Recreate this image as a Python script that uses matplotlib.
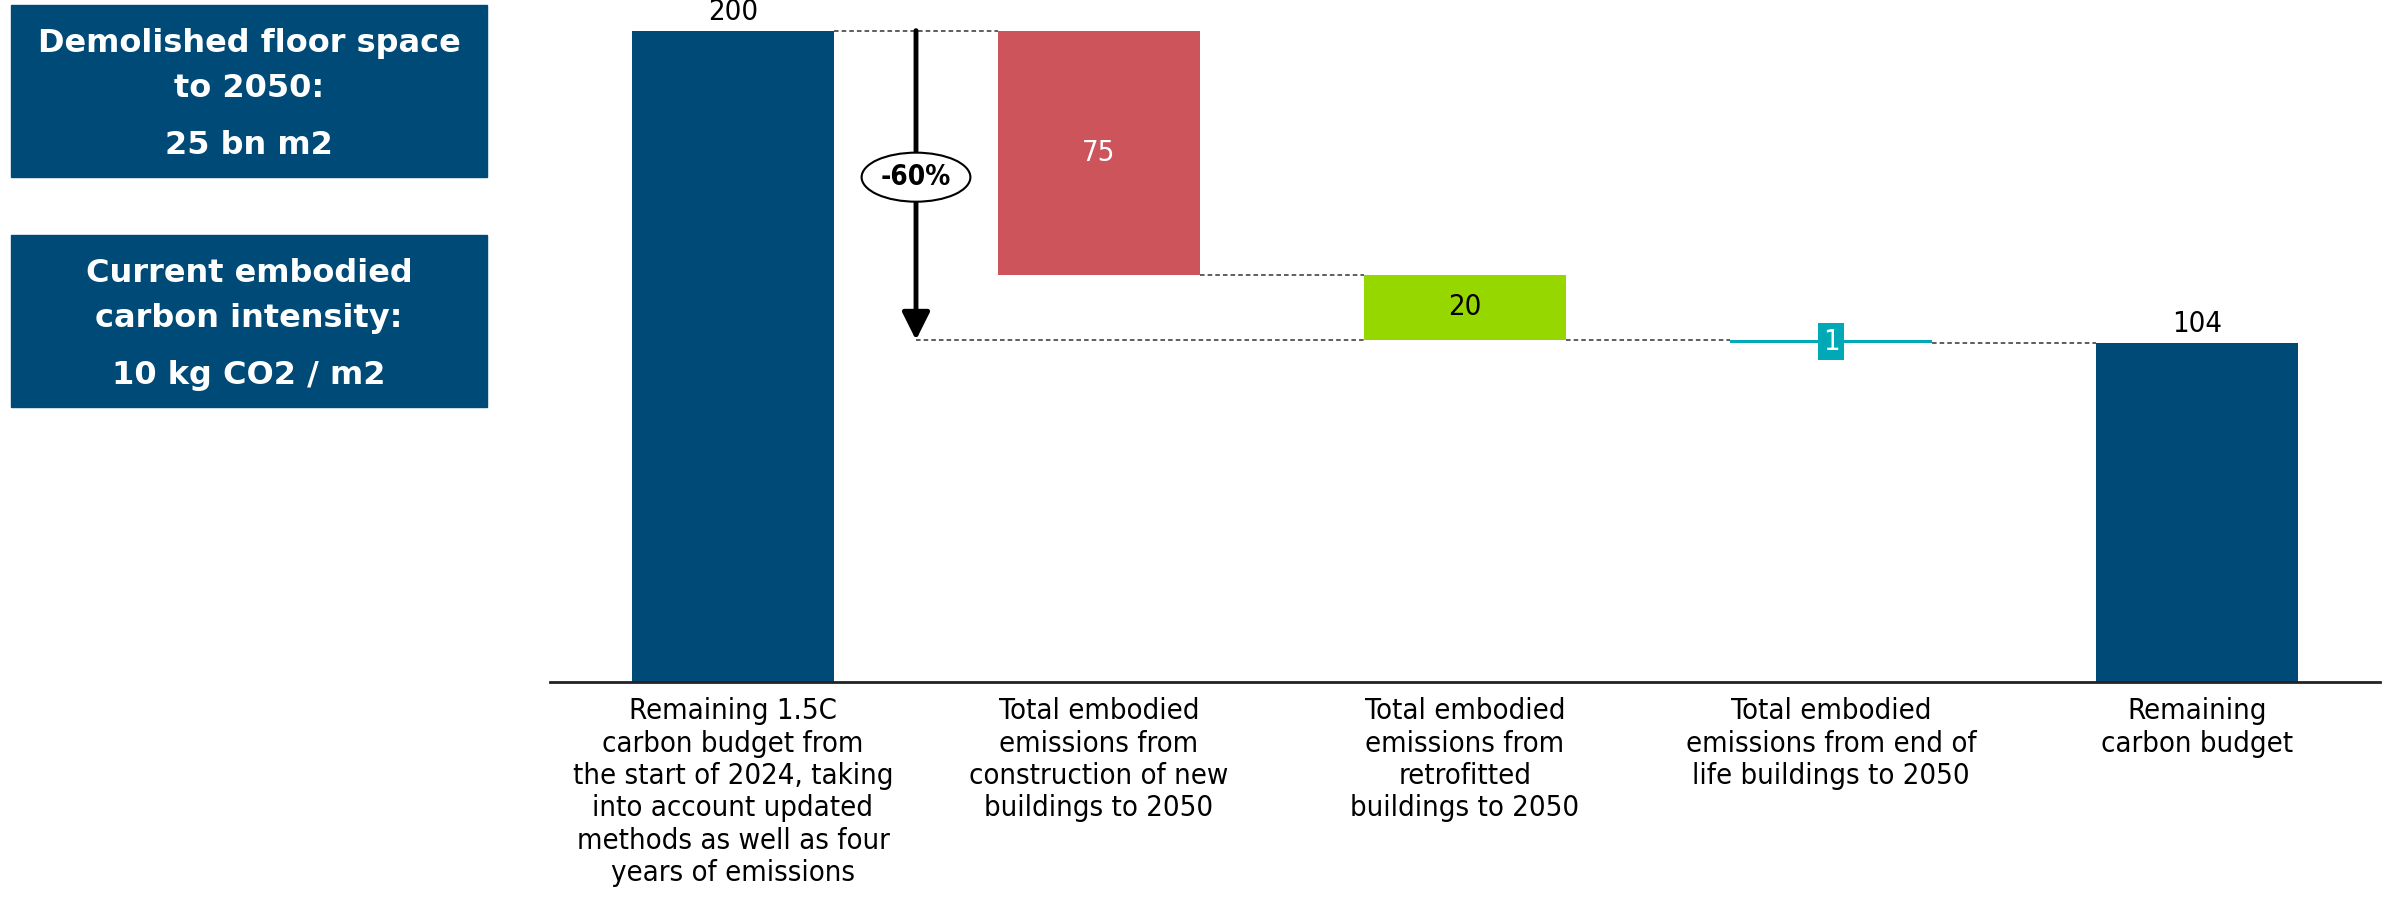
import matplotlib.pyplot as plt
from matplotlib.patches import Rectangle

# Data
categories = [
    "Remaining 1.5C\ncarbon budget from\nthe start of 2024, taking\ninto account updated\nmethods as well as four\nyears of emissions",
    "Total embodied\nemissions from\nconstruction of new\nbuildings to 2050",
    "Total embodied\nemissions from\nretrofitted\nbuildings to 2050",
    "Total embodied\nemissions from end of\nlife buildings to 2050",
    "Remaining\ncarbon budget",
]
values = [200, -75, -20, -1, 104]
is_total = [True, False, False, False, True]
bar_colors = ["#004A77", "#CD545B", "#97D700", "#00A9B5", "#004A77"]
label_colors = ["black", "white", "black", "white", "black"]
reduction_label = "-60%"

box_texts = [
    ("Demolished floor space\nto 2050:", "25 bn m2"),
    ("Current embodied\ncarbon intensity:", "10 kg CO2 / m2"),
]

navy = "#004A77"
cond = dict(family="DejaVu Sans", fontstretch="condensed")

fig = plt.figure(figsize=(23.97, 9.01), dpi=100)
ax = fig.add_axes([550 / 2397, 1 - 682 / 901, 1830 / 2397, 682 / 901])

# waterfall bottoms / heights
bottoms, heights, levels = [], [], []
running = 0
for v, tot in zip(values, is_total):
    if tot:
        bottoms.append(0)
        heights.append(v)
        running = v
    else:
        running = running + v
        bottoms.append(running)
        heights.append(-v)
    levels.append(running)

xs = list(range(len(values)))
width = 0.552
ax.bar(xs, heights, bottom=bottoms, width=width, color=bar_colors, zorder=2)

# dashed connectors
for i in range(len(values) - 1):
    ax.plot([xs[i] + width / 2, xs[i + 1] - width / 2], [levels[i], levels[i]],
            color="#333333", lw=1.1, ls=(0, (3, 2)), zorder=1)
# connector from the arrow tip to the retrofit bar
ax.plot([0.5, xs[2] - width / 2], [levels[2], levels[2]],
        color="#333333", lw=1.1, ls=(0, (3, 2)), zorder=1)

# value labels
for i, (v, tot) in enumerate(zip(values, is_total)):
    if tot:
        ax.text(xs[i], bottoms[i] + heights[i] + 1.5, str(abs(v)), ha="center", va="bottom",
                fontsize=21, color=label_colors[i], clip_on=False, **cond)
    elif abs(v) < 5:
        ax.text(xs[i], bottoms[i] + heights[i] / 2, str(abs(v)), ha="center", va="center",
                fontsize=21, color=label_colors[i], zorder=3,
                bbox=dict(boxstyle="square,pad=0.15", fc=bar_colors[i], ec="none"), **cond)
    else:
        ax.text(xs[i], bottoms[i] + heights[i] / 2, str(abs(v)), ha="center", va="center",
                fontsize=21, color=label_colors[i], zorder=3, **cond)

# reduction arrow
ax.annotate("", xy=(0.5, levels[2]), xytext=(0.5, values[0]),
            arrowprops=dict(arrowstyle="-|>,head_length=0.7,head_width=0.35", lw=3.5,
                            color="black", mutation_scale=24, shrinkA=0, shrinkB=0))
ax.text(0.5, 155, reduction_label, ha="center", va="center", fontsize=20,
        fontweight="bold", zorder=4,
        bbox=dict(boxstyle="ellipse,pad=0.12", fc="white", ec="black", lw=1.5), **cond)

ax.set_xlim(-0.5, 4.5)
ax.set_ylim(0, 209.4)
ax.set_xticks(xs)
ax.set_xticklabels(categories, fontsize=21, linespacing=1.2, **cond)
ax.tick_params(axis="x", length=0, pad=11)
ax.set_yticks([])
for s in ["top", "right", "left"]:
    ax.spines[s].set_visible(False)
ax.spines["bottom"].set_linewidth(2)
ax.spines["bottom"].set_color("#222222")
ax.set_facecolor("none")

# left info boxes
box_tops = [5, 235]
for (head, val), top in zip(box_texts, box_tops):
    fig.patches.append(Rectangle((11 / 2397, 1 - (top + 172) / 901), 476 / 2397, 172 / 901,
                                 transform=fig.transFigure, color=navy, zorder=0))
    fig.text(249 / 2397, 1 - (top + 61) / 901, head, ha="center", va="center",
             color="white", fontsize=23, fontweight="bold", linespacing=1.6)
    fig.text(249 / 2397, 1 - (top + 141) / 901, val, ha="center", va="center",
             color="white", fontsize=23, fontweight="bold")

fig.savefig("out.png", dpi=100)
